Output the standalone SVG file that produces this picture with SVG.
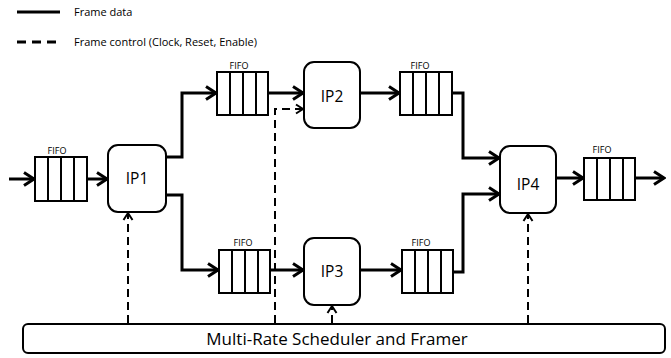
<svg xmlns="http://www.w3.org/2000/svg" width="671" height="358" viewBox="0 0 671 358">
<defs>
<marker id="ah" markerUnits="userSpaceOnUse" viewBox="-12 -8 14 16" refX="0" refY="0" markerWidth="14" markerHeight="16" orient="auto">
<path d="M-10,-6.5 L0,0 L-10,6.5" fill="none" stroke="#000" stroke-width="3" stroke-linejoin="miter"/>
</marker>
<marker id="ahd" markerUnits="userSpaceOnUse" viewBox="-10 -6 12 12" refX="0" refY="0" markerWidth="12" markerHeight="12" orient="auto">
<path d="M-7,-4.5 L0,0 L-7,4.5" fill="none" stroke="#000" stroke-width="2"/>
</marker>
</defs>
<style>
.box{fill:#fff;stroke:#000;stroke-width:2}
.cell{stroke:#000;stroke-width:2}
.data{fill:none;stroke:#000;stroke-width:3}
.ctrl{fill:none;stroke:#000;stroke-width:2;stroke-dasharray:8,5}
.lbl{font-family:"Open Sans","Liberation Sans",sans-serif;fill:#000}
.ip{font-size:15.5px;text-anchor:middle}
.ff{font-size:9px;text-anchor:middle}
</style>
<rect width="671" height="358" fill="#fff"/>
<g id="legend">
<line x1="17" y1="12" x2="60" y2="12" stroke="#000" stroke-width="3"/>
<text class="lbl" x="74" y="16" font-size="11">Frame data</text>
<line x1="17" y1="42" x2="58" y2="42" stroke="#000" stroke-width="3" stroke-dasharray="9,6"/>
<text class="lbl" x="74" y="46" font-size="11">Frame control (Clock, Reset, Enable)</text>
</g>
<g id="connectors">
<line class="data" x1="9" y1="179" x2="34" y2="179" marker-end="url(#ah)"/>
<line class="data" x1="87" y1="179" x2="107" y2="179" marker-end="url(#ah)"/>
<polyline class="data" points="166,157 182,157 182,93 216,93" marker-end="url(#ah)"/>
<polyline class="data" points="166,195 182,195 182,270 218,270" marker-end="url(#ah)"/>
<line class="data" x1="268" y1="93" x2="303" y2="93" marker-end="url(#ah)"/>
<line class="data" x1="270" y1="270" x2="303" y2="270" marker-end="url(#ah)"/>
<line class="data" x1="360" y1="93" x2="399" y2="93" marker-end="url(#ah)"/>
<line class="data" x1="360" y1="270" x2="401" y2="270" marker-end="url(#ah)"/>
<polyline class="data" points="452,93 463,93 463,158 499,158" marker-end="url(#ah)"/>
<polyline class="data" points="453,272 463,272 463,194 499,194" marker-end="url(#ah)"/>
<line class="data" x1="556" y1="178" x2="583" y2="178" marker-end="url(#ah)"/>
<line class="data" x1="635" y1="178" x2="664" y2="178" marker-end="url(#ah)"/>
<polyline class="ctrl" points="275,323 275,109 303,109" marker-end="url(#ahd)"/>
<line class="ctrl" x1="128" y1="323" x2="128" y2="213" marker-end="url(#ahd)"/>
<line class="ctrl" x1="332" y1="323" x2="332" y2="306" stroke-dasharray="none" marker-end="url(#ahd)"/>
<line class="ctrl" x1="528" y1="323" x2="528" y2="214" marker-end="url(#ahd)"/>
</g>
<g id="fifo1">
<text class="lbl ff" x="57" y="154">FIFO</text>
<rect class="box" x="35" y="157" width="52" height="44"/>
<line class="cell" x1="48" y1="157" x2="48" y2="201"/><line class="cell" x1="61" y1="157" x2="61" y2="201"/><line class="cell" x1="74" y1="157" x2="74" y2="201"/>
</g>
<g id="ip1">
<rect class="box" x="108" y="145" width="58" height="67" rx="10"/>
<text class="lbl ip" x="137" y="184">IP1</text>
</g>
<g id="fifo2">
<text class="lbl ff" x="239" y="69">FIFO</text>
<rect class="box" x="217" y="72" width="51" height="43"/>
<line class="cell" x1="230" y1="72" x2="230" y2="115"/><line class="cell" x1="243" y1="72" x2="243" y2="115"/><line class="cell" x1="256" y1="72" x2="256" y2="115"/>
</g>
<g id="ip2">
<rect class="box" x="304" y="62" width="56" height="66" rx="10"/>
<text class="lbl ip" x="332" y="102">IP2</text>
</g>
<g id="fifo3">
<text class="lbl ff" x="420" y="69">FIFO</text>
<rect class="box" x="400" y="72" width="52" height="43"/>
<line class="cell" x1="413" y1="72" x2="413" y2="115"/><line class="cell" x1="426" y1="72" x2="426" y2="115"/><line class="cell" x1="439" y1="72" x2="439" y2="115"/>
</g>
<g id="fifo5">
<text class="lbl ff" x="243" y="246">FIFO</text>
<rect class="box" x="219" y="250" width="51" height="43"/>
<line class="cell" x1="232" y1="250" x2="232" y2="293"/><line class="cell" x1="245" y1="250" x2="245" y2="293"/><line class="cell" x1="258" y1="250" x2="258" y2="293"/>
</g>
<g id="ip3">
<rect class="box" x="304" y="238" width="56" height="67" rx="10"/>
<text class="lbl ip" x="332" y="277">IP3</text>
</g>
<g id="fifo6">
<text class="lbl ff" x="421" y="246">FIFO</text>
<rect class="box" x="402" y="250" width="51" height="43"/>
<line class="cell" x1="415" y1="250" x2="415" y2="293"/><line class="cell" x1="428" y1="250" x2="428" y2="293"/><line class="cell" x1="441" y1="250" x2="441" y2="293"/>
</g>
<g id="ip4">
<rect class="box" x="500" y="146" width="56" height="67" rx="10"/>
<text class="lbl ip" x="528" y="190">IP4</text>
</g>
<g id="fifo4">
<text class="lbl ff" x="602" y="153">FIFO</text>
<rect class="box" x="584" y="158" width="51" height="42"/>
<line class="cell" x1="597" y1="158" x2="597" y2="200"/><line class="cell" x1="610" y1="158" x2="610" y2="200"/><line class="cell" x1="623" y1="158" x2="623" y2="200"/>
</g>
<g id="scheduler">
<rect class="box" x="23" y="324" width="642" height="29" rx="5"/>
<text class="lbl" x="337" y="345" font-size="17" text-anchor="middle">Multi-Rate Scheduler and Framer</text>
</g>
</svg>
